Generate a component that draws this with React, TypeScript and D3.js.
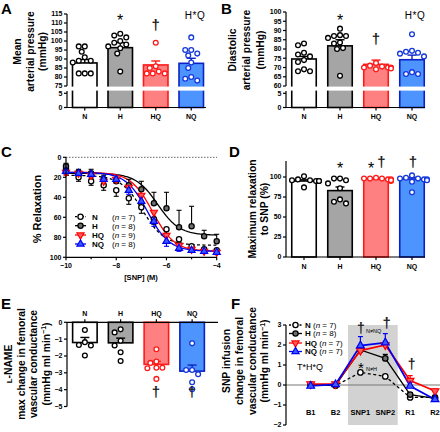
import React from 'react';
import * as d3 from 'd3';

const FONT = "'Liberation Sans', Arial, Helvetica, sans-serif";
const groups = ['N', 'H', 'HQ', 'NQ'];

// ---------- A: mean arterial pressure (mmHg)
const mapMean = [87.8, 96.3, 86.7, 87.6];
const mapSem = [1.9, 2.8, 2.2, 2.8];
const mapDotsN = [97, 97, 94, 91, 89, 89, 88, 82, 82, 82];
const mapDotsH = [104, 103, 102, 100, 99, 98, 97, 96, 93, 83];
const mapDotsHQ = [99, 86, 85, 83, 82, 82, 82];
const mapDotsNQ = [102, 95, 95, 93, 92, 88, 85, 80, 79, 78];
const mapTicksUpper = [75, 80, 85, 90, 95, 100, 105, 110, 115];
const lowTicks = [0, 5];

// ---------- B: diastolic arterial pressure (mmHg)
const dapMean = [74.6, 81.7, 71.7, 74.2];
const dapSem = [1.4, 3.3, 2.3, 2.5];
const dapDotsN = [83, 82, 78, 77, 76, 74, 73, 69, 68, 68];
const dapDotsH = [91, 87.5, 87, 87, 86, 83.5, 83, 80.5, 80, 65.5];
const dapDotsHQ = [72.5, 71, 70, 70, 70, 69.5, 69, 70.5];
const dapDotsNQ = [88, 78.5, 77.5, 78, 79, 76, 66.5, 67.5, 66.5];
const dapTicksUpper = [60, 65, 70, 75, 80, 85, 90, 95, 100];

// ---------- C: % relaxation vs log[SNP]
const snpLogM = [-10, -9.5, -9, -8.5, -8, -7.5, -7, -6.5, -6, -5.5, -5, -4.5, -4];
const relaxN = [12, 20, 24, 28, 33, 41, 50, 62, 72, 82, 89, 92, 93];
const relaxNSem = [3, 4, 4, 5, 6, 6, 6, 5, 4, 3, 2, 2, 2];
const relaxH = [9, 15, 16, 22, 24, 28, 32, 46, 51, 70, 69, 79, 84];
const relaxHSem = [3, 3, 4, 4, 4, 6, 8, 11, 16, 17, 20, 6, 7];
const relaxHQ = [15, 16, 18, 24, 22, 30, 38, 55, 78, 88, 92, 94, 95];
const relaxHQSem = [3, 3, 3, 4, 4, 4, 5, 5, 5, 3, 2, 2, 2];
const relaxNQ = [14, 16, 17, 22, 22, 33, 44, 64, 84, 91, 93, 94, 95];
const relaxNQSem = [3, 3, 3, 4, 4, 4, 5, 5, 5, 3, 2, 2, 2];
const fitBottom = [18, 16, 15, 15];
const fitTop = [88, 78, 94, 94];
const fitLogEC50 = [-6.95, -6.35, -6.55, -6.75];
const nC = [7, 8, 9, 8];
const relaxTicks = [0, 20, 40, 60, 80, 100];
const snpTicks = [-10, -8, -6, -4];
const snpMinorTicks = [-9, -7, -5];

// ---------- D: maximum relaxation to SNP (%)
const maxMean = [95, 83, 97.5, 97.5];
const maxSem = [1.5, 4.5, 0.6, 2.0];
const maxDotsN = [101, 96, 95, 97, 96, 95, 87, 95];
const maxDotsH = [92, 98, 98, 96, 86, 67, 72, 69];
const maxDotsHQ = [96, 97, 98, 95, 97, 98, 99, 96, 98];
const maxDotsNQ = [98, 97, 99, 102, 97, 96, 94, 81, 98];
const maxTicks = [0, 25, 50, 75, 100];

// ---------- E: L-NAME max change in femoral vascular conductance
const lnameMean = [-1.2, -1.22, -2.5, -2.9];
const lnameSem = [0.3, 0.28, 0.18, 0.36];
const lnameDotsN = [-0.46, -1.18, -1.35, -1.38, -1.97];
const lnameDotsH = [-0.42, -0.6, -1.1, -1.38, -1.78, -2.3];
const lnameDotsHQ = [-1.6, -2.33, -2.41, -2.7, -2.7, -2.73, -3.36];
const lnameDotsNQ = [-1.25, -2.83, -2.83, -3.08, -3.56, -3.98];
const lnameTicks = [0, -1, -2, -3, -4, -5];

// ---------- F: SNP infusion change in femoral vascular conductance
const phases = ['B1', 'B2', 'SNP1', 'SNP2', 'R1', 'R2'];
const fvcN = [0.0, -0.03, 0.63, 0.43, -0.62, -0.62];
const fvcNSem = [0.05, 0.05, 0.08, 0.08, 0.08, 0.08];
const fvcH = [0.03, -0.02, 1.75, 1.33, -0.48, -0.67];
const fvcHSem = [0.05, 0.05, 0.2, 0.2, 0.1, 0.1];
const fvcHQ = [0.05, 0.05, 1.72, 2.0, 0.22, -0.3];
const fvcHQSem = [0.05, 0.05, 0.15, 0.15, 0.25, 0.1];
const fvcNQ = [-0.05, 0.03, 1.97, 2.12, -0.05, -0.72];
const fvcNQSem = [0.05, 0.05, 0.45, 0.45, 0.2, 0.1];
const nF = [7, 8, 7, 7];
const fvcTicks = [-2, -1, 0, 1, 2, 3];

// ---------- styles
const BAR_FILL = ['#ffffff', '#a5a5a5', '#ff8080', '#4d94ff'];
const BAR_STROKE = ['#000000', '#000000', '#ff1a1a', '#0b22c4'];
const DOT_STROKE = ['#000000', '#000000', '#ff1a1a', '#1538dd'];
const SER = [
  { kind: 'circle', fill: '#ffffff', stroke: '#000000', line: '#000000', dash: '3,2.5' },
  { kind: 'circle', fill: '#6e6e6e', stroke: '#000000', line: '#000000', dash: undefined },
  { kind: 'down', fill: '#ff5c5c', stroke: '#ff0000', line: '#ff0000', dash: undefined },
  { kind: 'up', fill: '#3a5bff', stroke: '#0000f0', line: '#0000f0', dash: undefined },
];

const fmtNum = (v: number) => (v < 0 ? '\u2212' + Math.abs(v) : String(v));

function dodge(vals: number[], y: (v: number) => number, r: number): number[] {
  const placed: { x: number; y: number }[] = [];
  const out = vals.map(() => 0);
  const order = vals.map((_, i) => i).sort((a, b) => y(vals[a]) - y(vals[b]));
  const half = r + 0.6;
  const cands = [0, -1, 1, -2, 2, -3, 3, -4, 4, -5, 5].map((k) => k * half);
  for (const i of order) {
    const py = y(vals[i]);
    let best = cands[cands.length - 1];
    for (const c of cands) {
      if (placed.every((p) => Math.hypot(p.x - c, p.y - py) >= 2 * r + 0.9)) {
        best = c;
        break;
      }
    }
    placed.push({ x: best, y: py });
    out[i] = best;
  }
  return out;
}

function Marker({ kind, cx, cy, fill, stroke, r = 2.6, tri = 22 }: any) {
  if (kind === 'circle') return <circle cx={cx} cy={cy} r={r} fill={fill} stroke={stroke} strokeWidth={1.3} />;
  const path = d3.symbol().type(d3.symbolTriangle).size(tri)() as string;
  return (
    <path
      d={path}
      transform={`translate(${cx},${cy})${kind === 'down' ? ' rotate(180)' : ''}`}
      fill={fill}
      stroke={stroke}
      strokeWidth={1.2}
    />
  );
}

type BarChartProps = {
  axisX: number;
  xEnd: number;
  lineEnd: number;
  y: (v: number) => number;
  ticks: number[];
  segments: [number, number][];
  means: number[];
  sems: number[];
  dots: number[][];
  gap?: [number, number];
  baseY: number;
  labelY: number;
  catTickDir: number;
  errDir: number;
};

function BarChart(p: BarChartProps) {
  const x = d3.scalePoint<string>().domain(groups).range([p.axisX, p.xEnd]).padding(0.5);
  const bw = 24.5;
  const r = 2.4;
  return (
    <g>
      {groups.map((g, i) => {
        const cx = x(g)!;
        const y0 = p.y(0);
        const ym = p.y(p.means[i]);
        return (
          <rect
            key={'b' + g}
            x={cx - bw / 2}
            y={Math.min(y0, ym)}
            width={bw}
            height={Math.abs(y0 - ym)}
            fill={BAR_FILL[i]}
            stroke={BAR_STROKE[i]}
            strokeWidth={1.6}
          />
        );
      })}
      {p.gap && (
        <rect x={p.axisX + 1} y={p.gap[0]} width={p.xEnd - p.axisX} height={p.gap[1] - p.gap[0]} fill="#ffffff" />
      )}
      {groups.map((g, i) => {
        const cx = x(g)!;
        const ym = p.y(p.means[i]);
        const ye = p.y(p.means[i] + p.errDir * p.sems[i]);
        return (
          <g key={'e' + g} stroke={BAR_STROKE[i]} strokeWidth={1.4}>
            <line x1={cx} x2={cx} y1={ym} y2={ye} />
            <line x1={cx - 4.5} x2={cx + 4.5} y1={ye} y2={ye} />
          </g>
        );
      })}
      {groups.map((g, i) => {
        const cx = x(g)!;
        const offs = dodge(p.dots[i], p.y, r);
        return (
          <g key={'d' + g}>
            {p.dots[i].map((v, j) => (
              <circle key={j} cx={cx + offs[j]} cy={p.y(v)} r={r} fill="#ffffff" stroke={DOT_STROKE[i]} strokeWidth={1.3} />
            ))}
          </g>
        );
      })}
      {/* y axis */}
      <g stroke="#000" strokeWidth={1.2}>
        {p.segments.map((s, k) => (
          <line key={k} x1={p.axisX} x2={p.axisX} y1={s[0]} y2={s[1]} />
        ))}
        {p.ticks.map((t) => (
          <line key={t} x1={p.axisX - 3} x2={p.axisX} y1={p.y(t)} y2={p.y(t)} />
        ))}
        <line x1={p.axisX} x2={p.lineEnd} y1={p.baseY} y2={p.baseY} />
        {groups.map((g) => (
          <line key={g} x1={x(g)!} x2={x(g)!} y1={p.baseY} y2={p.baseY + 3 * p.catTickDir} />
        ))}
      </g>
      {p.ticks.map((t) => (
        <text key={'t' + t} x={p.axisX - 4.5} y={p.y(t)} dy="0.35em" textAnchor="end" fontSize={7} fontWeight="bold">
          {fmtNum(t)}
        </text>
      ))}
      {groups.map((g) => (
        <text key={'l' + g} x={x(g)!} y={p.labelY} dy="0.35em" textAnchor="middle" fontSize={7} fontWeight="bold">
          {g}
        </text>
      ))}
    </g>
  );
}

function YTitle({ lines, xs, cy, size = 10.3 }: { lines: React.ReactNode[]; xs: number[]; cy: number; size?: number }) {
  return (
    <g>
      {lines.map((l, i) => (
        <text
          key={i}
          transform={`translate(${xs[i]},${cy}) rotate(-90)`}
          dy="0.35em"
          textAnchor="middle"
          fontSize={size}
          fontWeight="bold"
        >
          {l}
        </text>
      ))}
    </g>
  );
}

const Star = ({ x, cy, size = 16 }: { x: number; cy: number; size?: number }) => (
  <text x={x} y={cy + size * 0.56} textAnchor="middle" fontSize={size} fill="#000">
    *
  </text>
);
const Dagger = ({ x, cy, size = 15 }: { x: number; cy: number; size?: number }) => (
  <text x={x} y={cy + size * 0.29} textAnchor="middle" fontSize={size} fontWeight="bold" fill="#222">
    {'\u2020'}
  </text>
);

function brokenScale(upper: [number, number], upperRange: [number, number], lowerRange: [number, number]) {
  const up = d3.scaleLinear().domain(upper).range(upperRange);
  const lo = d3.scaleLinear().domain([0, 5]).range(lowerRange);
  return (v: number) => (v >= upper[0] ? up(v) : lo(v));
}

function PanelA() {
  const y = brokenScale([75, 115], [86, 14], [107.5, 93.3]);
  return (
    <g>
      <BarChart
        axisX={67}
        xEnd={209}
        lineEnd={206}
        y={y}
        ticks={[...lowTicks, ...mapTicksUpper]}
        segments={[
          [14, 86],
          [91, 107.5],
        ]}
        means={mapMean}
        sems={mapSem}
        dots={[mapDotsN, mapDotsH, mapDotsHQ, mapDotsNQ]}
        gap={[86.6, 90.6]}
        baseY={107.5}
        labelY={117}
        catTickDir={1}
        errDir={1}
      />
      <YTitle lines={['Mean', 'arterial pressure', '(mmHg)']} xs={[17.3, 30, 42.7]} cy={51.5} />
      <text x={1} y={13.5} fontSize={15} fontWeight="bold">A</text>
      <Star x={120} cy={16.7} />
      <Dagger x={155.7} cy={26} />
      <text x={195} y={18.5} textAnchor="middle" fontSize={10} letterSpacing={0.6}>H*Q</text>
    </g>
  );
}

function PanelB() {
  const y = brokenScale([60, 100], [86, 12], [107.5, 93.3]);
  return (
    <g>
      <BarChart
        axisX={286}
        xEnd={430}
        lineEnd={425}
        y={y}
        ticks={[...lowTicks, ...dapTicksUpper]}
        segments={[
          [12, 86],
          [91, 107.5],
        ]}
        means={dapMean}
        sems={dapSem}
        dots={[dapDotsN, dapDotsH, dapDotsHQ, dapDotsNQ]}
        gap={[86.6, 90.6]}
        baseY={107.5}
        labelY={117}
        catTickDir={1}
        errDir={1}
      />
      <YTitle lines={['Diastolic', 'arterial pressure', '(mmHg)']} xs={[232, 246.3, 260]} cy={50} />
      <text x={221} y={13.5} fontSize={15} fontWeight="bold">B</text>
      <Star x={340} cy={16.7} />
      <Dagger x={376} cy={40} />
      <text x={415} y={18.5} textAnchor="middle" fontSize={10} letterSpacing={0.6}>H*Q</text>
    </g>
  );
}

function PanelC() {
  const x = d3.scaleLinear().domain([-10, -4]).range([66, 216.7]);
  const y = d3.scaleLinear().domain([0, 100]).range([157.3, 257.3]);
  const series = [relaxN, relaxH, relaxHQ, relaxNQ];
  const sems = [relaxNSem, relaxHSem, relaxHQSem, relaxNQSem];
  const errDir = [1, -1, 1, 1];
  const curveX = d3.range(-10, -3.999, 0.05);
  const hill = (k: number, lx: number) =>
    fitBottom[k] + (fitTop[k] - fitBottom[k]) / (1 + Math.pow(10, fitLogEC50[k] - lx));
  const legendY = [216.7, 225.7, 235, 244];
  return (
    <g>
      <line x1={66} x2={217} y1={y(0)} y2={y(0)} stroke="#555" strokeWidth={0.9} strokeDasharray="1.5,1.5" />
      {series.map((_, k) => {
        const path = d3
          .line<number>()
          .x((lx) => x(lx))
          .y((lx) => y(hill(k, lx)))(curveX);
        return (
          <path key={'c' + k} d={path!} fill="none" stroke={SER[k].line} strokeWidth={1.3} strokeDasharray={SER[k].dash} />
        );
      })}
      {series.map((s, k) => (
        <g key={'e' + k} stroke={SER[k].stroke} strokeWidth={1.1}>
          {s.map((v, j) => {
            const ye = y(v + errDir[k] * sems[k][j]);
            const cx = x(snpLogM[j]);
            return (
              <g key={j}>
                <line x1={cx} x2={cx} y1={y(v)} y2={ye} />
                <line x1={cx - 2.5} x2={cx + 2.5} y1={ye} y2={ye} />
              </g>
            );
          })}
        </g>
      ))}
      {series.map((s, k) => (
        <g key={'m' + k}>
          {s.map((v, j) => (
            <Marker key={j} kind={SER[k].kind} cx={x(snpLogM[j])} cy={y(v)} fill={SER[k].fill} stroke={SER[k].stroke} />
          ))}
        </g>
      ))}
      {/* axes */}
      <g stroke="#000" strokeWidth={1.2}>
        <line x1={66} x2={66} y1={y(0)} y2={y(100)} />
        <line x1={66} x2={217} y1={y(100)} y2={y(100)} />
        {relaxTicks.map((t) => (
          <line key={t} x1={63} x2={66} y1={y(t)} y2={y(t)} />
        ))}
        {snpTicks.map((t) => (
          <line key={t} x1={x(t)} x2={x(t)} y1={y(100)} y2={y(100) + 3} />
        ))}
        {snpMinorTicks.map((t) => (
          <line key={t} x1={x(t)} x2={x(t)} y1={y(100)} y2={y(100) + 2} />
        ))}
      </g>
      {relaxTicks.map((t) => (
        <text key={t} x={61.5} y={y(t)} dy="0.35em" textAnchor="end" fontSize={7} fontWeight="bold">
          {t}
        </text>
      ))}
      {snpTicks.map((t) => (
        <text key={t} x={x(t)} y={266} dy="0.35em" textAnchor="middle" fontSize={7} fontWeight="bold">
          {fmtNum(t)}
        </text>
      ))}
      <text x={141} y={277} dy="0.35em" textAnchor="middle" fontSize={7.5} fontWeight="bold">
        [SNP] (M)
      </text>
      <YTitle lines={['% Relaxation']} xs={[37]} cy={209} size={11} />
      <text x={1} y={157} fontSize={15} fontWeight="bold">C</text>
      {groups.map((g, k) => (
        <g key={'lg' + g}>
          <line x1={75} x2={86} y1={legendY[k]} y2={legendY[k]} stroke={SER[k].line} strokeWidth={1.3} strokeDasharray={SER[k].dash ? '2,1.5' : undefined} />
          <Marker kind={SER[k].kind} cx={80.5} cy={legendY[k]} fill={SER[k].fill} stroke={SER[k].stroke} />
          <text x={92} y={legendY[k]} dy="0.35em" fontSize={8} fontWeight="bold">
            {g}
          </text>
          <text x={112} y={legendY[k]} dy="0.35em" fontSize={8}>
            (<tspan fontStyle="italic">n</tspan> = {nC[k]})
          </text>
        </g>
      ))}
    </g>
  );
}

function PanelD() {
  const y = d3.scaleLinear().domain([0, 120]).range([257, 161]);
  return (
    <g>
      <BarChart
        axisX={286}
        xEnd={430}
        lineEnd={425}
        y={y}
        ticks={maxTicks}
        segments={[[161, 257]]}
        means={maxMean}
        sems={maxSem}
        dots={[maxDotsN, maxDotsH, maxDotsHQ, maxDotsNQ]}
        baseY={257}
        labelY={267}
        catTickDir={1}
        errDir={1}
      />
      <YTitle lines={['Maximum relaxation', 'to SNP (%)']} xs={[252, 264]} cy={209} />
      <text x={229} y={157} fontSize={15} fontWeight="bold">D</text>
      <Star x={340} cy={165} />
      <Star x={371} cy={165} />
      <Dagger x={381.5} cy={163} />
      <Dagger x={413} cy={163} />
    </g>
  );
}

function PanelE() {
  const y = d3.scaleLinear().domain([-5, 0]).range([406.5, 322.3]);
  return (
    <g>
      <BarChart
        axisX={67}
        xEnd={210}
        lineEnd={218}
        y={y}
        ticks={lnameTicks}
        segments={[[322.3, 406.5]]}
        means={lnameMean}
        sems={lnameSem}
        dots={[lnameDotsN, lnameDotsH, lnameDotsHQ, lnameDotsNQ]}
        baseY={322.3}
        labelY={314}
        catTickDir={-1}
        errDir={1}
      />
      <YTitle
        lines={[
          <>
            <tspan fontSize={7.8}>L</tspan>-NAME
          </>,
          'max change in femoral',
          'vascular conductance',
          <>
            (mmHg ml min
            <tspan dy={-3.5} fontSize={7}>
              {'\u22121'}
            </tspan>
            <tspan dy={3.5}>)</tspan>
          </>,
        ]}
        xs={[8, 21, 33.5, 46]}
        cy={364}
      />
      <text x={1} y={309} fontSize={15} fontWeight="bold">E</text>
      <Dagger x={156} cy={393} />
      <Dagger x={192} cy={393} />
    </g>
  );
}

function PanelF() {
  const x = d3.scalePoint<string>().domain(phases).range([310.7, 435]);
  const y = d3.scaleLinear().domain([-2, 3]).range([425, 325]);
  const step = x.step();
  const series = [fvcN, fvcH, fvcHQ, fvcNQ];
  const sems = [fvcNSem, fvcHSem, fvcHQSem, fvcNQSem];
  const legendY = [325, 333.5, 343, 351.5];
  return (
    <g>
      <rect x={x('SNP1')! - step / 2} y={y(3)} width={step * 2} height={y(-2) - y(3)} fill="#d2d2d2" />
      <line x1={286} x2={440} y1={y(0)} y2={y(0)} stroke="#777" strokeWidth={1} />
      {series.map((s, k) => {
        const path = d3
          .line<number>()
          .x((_, j) => x(phases[j])!)
          .y((v) => y(v))(s);
        return (
          <path key={'l' + k} d={path!} fill="none" stroke={SER[k].line} strokeWidth={k >= 2 ? 1.7 : 1.3} strokeDasharray={SER[k].dash} />
        );
      })}
      {series.map((s, k) => (
        <g key={'e' + k} stroke={SER[k].stroke} strokeWidth={1.2}>
          {s.map((v, j) => {
            const cx = x(phases[j])!;
            const ye = y(v + sems[k][j]);
            return (
              <g key={j}>
                <line x1={cx} x2={cx} y1={y(v)} y2={ye} />
                <line x1={cx - 2.5} x2={cx + 2.5} y1={ye} y2={ye} />
              </g>
            );
          })}
        </g>
      ))}
      {series.map((s, k) => (
        <g key={'m' + k}>
          {s.map((v, j) => (
            <Marker key={j} kind={SER[k].kind} cx={x(phases[j])!} cy={y(v)} fill={SER[k].fill} stroke={SER[k].stroke} r={2.7} tri={26} />
          ))}
        </g>
      ))}
      <g stroke="#000" strokeWidth={1.2}>
        <line x1={286} x2={286} y1={y(3)} y2={y(-2)} />
        {fvcTicks.map((t) => (
          <line key={t} x1={283} x2={286} y1={y(t)} y2={y(t)} />
        ))}
      </g>
      {fvcTicks.map((t) => (
        <text key={t} x={281.5} y={y(t)} dy="0.35em" textAnchor="end" fontSize={7} fontWeight="bold">
          {fmtNum(t)}
        </text>
      ))}
      {phases.map((ph) => (
        <text key={ph} x={x(ph)!} y={412} dy="0.35em" textAnchor="middle" fontSize={7.5} fontWeight="bold">
          {ph}
        </text>
      ))}
      <YTitle
        lines={[
          'SNP infusion',
          'change in femoral',
          'vascular conductance',
          <>
            (mmHg ml min
            <tspan dy={-3.5} fontSize={7}>
              {'\u22121'}
            </tspan>
            <tspan dy={3.5}>)</tspan>
          </>,
        ]}
        xs={[226, 239, 252, 264.5]}
        cy={361}
      />
      <text x={231} y={309} fontSize={15} fontWeight="bold">F</text>
      {groups.map((g, k) => (
        <g key={'lg' + g}>
          <line x1={289} x2={302} y1={legendY[k]} y2={legendY[k]} stroke={SER[k].line} strokeWidth={1.3} strokeDasharray={SER[k].dash ? '2,1.5' : undefined} />
          <Marker kind={SER[k].kind} cx={295.5} cy={legendY[k]} fill={SER[k].fill} stroke={SER[k].stroke} />
          <text x={305} y={legendY[k]} dy="0.35em" fontSize={8}>
            <tspan fontWeight="bold">{g}</tspan> (<tspan fontStyle="italic">n</tspan> = {nF[k]})
          </text>
        </g>
      ))}
      <text x={297} y={370} fontSize={9}>
        T*H*Q
      </text>
      <Dagger x={361} cy={329} size={14} />
      <text x={366} y={333} fontSize={5.5}>N≠NQ</text>
      <Dagger x={386.6} cy={324} size={15} />
      <Star x={361} cy={365} size={15} />
      <text x={366} y={371} fontSize={5.5}>N≠H</text>
      <Dagger x={411.7} cy={365} size={14} />
    </g>
  );
}

export default function App() {
  return (
    <svg
      width={440}
      height={432}
      viewBox="0 0 440 432"
      style={{ position: 'absolute', left: 0, top: 0, background: '#ffffff' }}
      fontFamily={FONT}
    >
      <rect width={440} height={432} fill="#ffffff" />
      <PanelA />
      <PanelB />
      <PanelC />
      <PanelD />
      <PanelE />
      <PanelF />
    </svg>
  );
}
